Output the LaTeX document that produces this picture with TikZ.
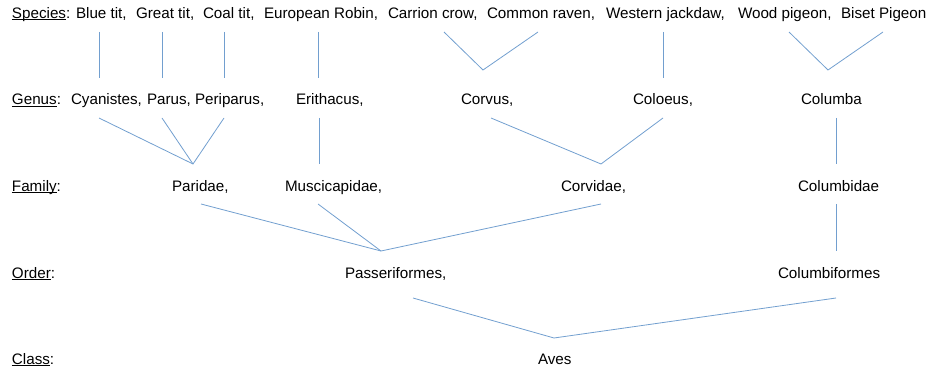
\documentclass[tikz,border=0pt]{standalone}
\usepackage{fontspec}
\setmainfont{Liberation Sans}
\definecolor{linkblue}{RGB}{114,159,207}
\newcommand{\taxfont}{\fontsize{15.2}{18}\selectfont}
\newcommand{\ulbl}[1]{\setbox0\hbox{#1}\rlap{\rule[-1.7pt]{\wd0}{0.8pt}}\box0}
\tikzset{
  taxon/.style={anchor=base west,inner sep=0pt,outer sep=0pt,font=\taxfont},
  rank/.style={taxon},
  link/.style={draw=linkblue,line width=0.8pt,line join=miter},
}

\begin{document}
\begin{tikzpicture}[x=1pt,y=-1pt]
  \useasboundingbox (0,0) rectangle (931,371);

  % ranks
  \node[rank] (rspecies) at (12,18.5)  {\ulbl{Species}:};
  \node[rank] (rgenus)   at (12,105)   {\ulbl{Genus}:};
  \node[rank] (rfamily)  at (12,191.5) {\ulbl{Family}:};
  \node[rank] (rorder)   at (12,278)   {\ulbl{Order}:};
  \node[rank] (rclass)   at (12,364.5) {\ulbl{Class}:};

  % species
  \node[taxon] (bluetit)  at (76,18.5)  {Blue tit,};
  \node[taxon] (greattit) at (136,18.5) {Great tit,};
  \node[taxon] (coaltit)  at (203,18.5) {Coal tit,};
  \node[taxon] (robin)    at (264,18.5) {European Robin,};
  \node[taxon] (crow)     at (388,18.5) {Carrion crow,};
  \node[taxon] (raven)    at (487,18.5) {Common raven,};
  \node[taxon] (jackdaw)  at (606,18.5) {Western jackdaw,};
  \node[taxon] (woodpig)  at (738,18.5) {Wood pigeon,};
  \node[taxon] (bisetpig) at (841,18.5) {Biset Pigeon};

  % genera
  \node[taxon] (cyanistes) at (71,105)  {Cyanistes,};
  \node[taxon] (parus)     at (147,105) {Parus,};
  \node[taxon] (periparus) at (195,105) {Periparus,};
  \node[taxon] (erithacus) at (296,105) {Erithacus,};
  \node[taxon] (corvus)    at (461,105) {Corvus,};
  \node[taxon] (coloeus)   at (633,105) {Coloeus,};
  \node[taxon] (columba)   at (801,105) {Columba};

  % families
  \node[taxon] (paridae)      at (172,191.5) {Paridae,};
  \node[taxon] (muscicapidae) at (285,191.5) {Muscicapidae,};
  \node[taxon] (corvidae)     at (561,191.5) {Corvidae,};
  \node[taxon] (columbidae)   at (798,191.5) {Columbidae};

  % orders and class
  \node[taxon] (passeri) at (345,278)   {Passeriformes,};
  \node[taxon] (columbi) at (778,278)   {Columbiformes};
  \node[taxon] (aves)    at (538,364.5) {Aves};

  % line ends
  \coordinate (bluetitD)  at (99,32);   \coordinate (cyanistesU) at (99,78);
  \coordinate (greattitD) at (162,32);  \coordinate (parusU)     at (162,78);
  \coordinate (coaltitD)  at (224,32);  \coordinate (periparusU) at (224,78);
  \coordinate (robinD)    at (318,32);  \coordinate (erithacusU) at (318,78);
  \coordinate (crowD)     at (444,32);  \coordinate (ravenD)     at (538,32);
  \coordinate (corvusU)   at (483,70);
  \coordinate (jackdawD)  at (663,32);  \coordinate (coloeusU)   at (663,78);
  \coordinate (woodpigD)  at (789,32);  \coordinate (bisetpigD)  at (883,32);
  \coordinate (columbaU)  at (828,70);

  \coordinate (cyanistesD) at (99,118);
  \coordinate (parusD)     at (162,118);
  \coordinate (periparusD) at (224,118);
  \coordinate (paridaeU)   at (193,164);
  \coordinate (erithacusD) at (319,118); \coordinate (muscicapidaeU) at (319,164);
  \coordinate (corvusD)    at (491,118);
  \coordinate (coloeusD)   at (663,118);
  \coordinate (corvidaeU)  at (601,164);
  \coordinate (columbaD)   at (836,118); \coordinate (columbidaeU) at (836,164);

  \coordinate (paridaeD)      at (201,204);
  \coordinate (muscicapidaeD) at (318,204);
  \coordinate (corvidaeD)     at (601,204);
  \coordinate (passeriU)      at (381,251);
  \coordinate (columbidaeD)   at (836,204); \coordinate (columbiU) at (836,251);

  \coordinate (passeriD) at (413,298);
  \coordinate (columbiD) at (836,298);
  \coordinate (avesU)    at (554,338);

  % species to genus
  \draw[link] (bluetitD) -- (cyanistesU);
  \draw[link] (greattitD) -- (parusU);
  \draw[link] (coaltitD) -- (periparusU);
  \draw[link] (robinD) -- (erithacusU);
  \draw[link] (crowD) -- (corvusU) -- (ravenD);
  \draw[link] (jackdawD) -- (coloeusU);
  \draw[link] (woodpigD) -- (columbaU) -- (bisetpigD);

  % genus to family
  \draw[link] (cyanistesD) -- (paridaeU) -- (periparusD);
  \draw[link] (parusD) -- (paridaeU);
  \draw[link] (erithacusD) -- (muscicapidaeU);
  \draw[link] (corvusD) -- (corvidaeU) -- (coloeusD);
  \draw[link] (columbaD) -- (columbidaeU);

  % family to order
  \draw[link] (paridaeD) -- (passeriU) -- (corvidaeD);
  \draw[link] (muscicapidaeD) -- (passeriU);
  \draw[link] (columbidaeD) -- (columbiU);

  % order to class
  \draw[link] (passeriD) -- (avesU) -- (columbiD);
\end{tikzpicture}
\end{document}
